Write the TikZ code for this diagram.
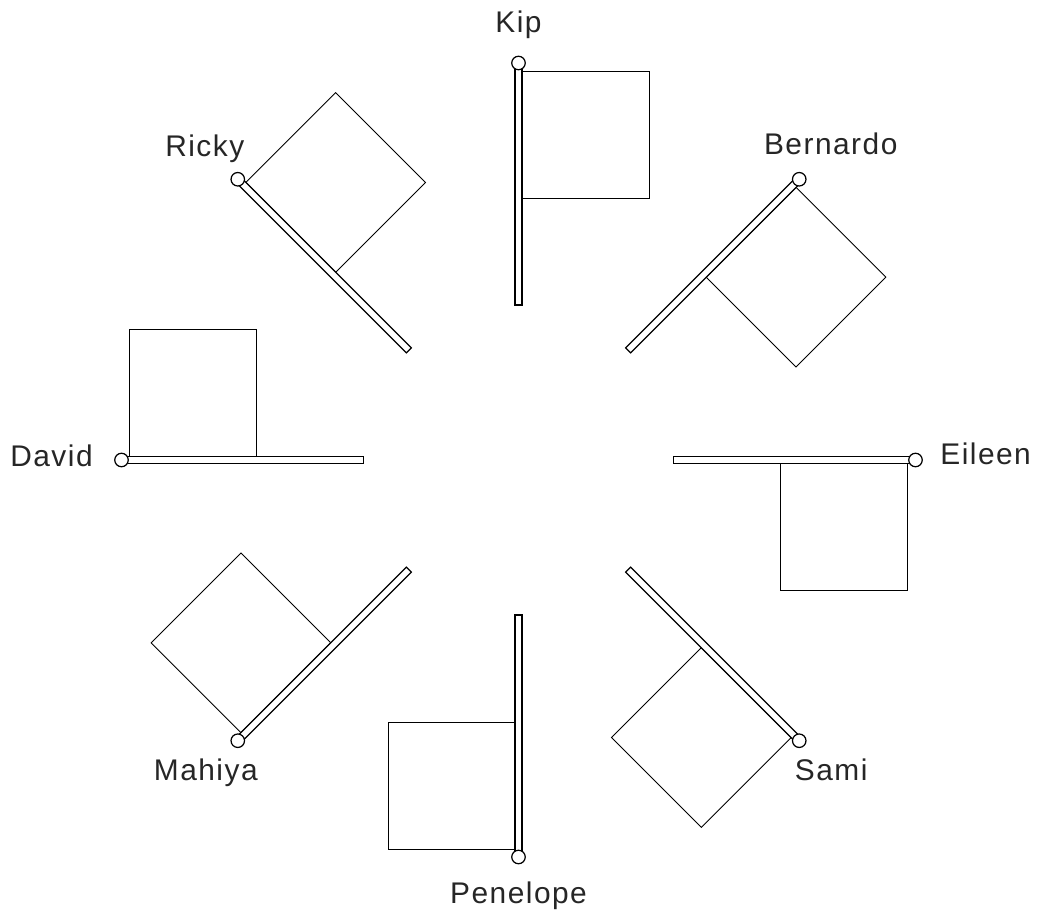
\documentclass[tikz,border=0pt]{standalone}
\usepackage{fontspec}
\setmainfont{Liberation Sans}[LetterSpace=5.0]
\usetikzlibrary{positioning}

% one flag: pole pointing at angle #1, top ring named #2
\newcommand{\drawflag}[2]{%
	\begin{scope}[rotate=#1]
		\draw[flagsheet] (5.24,-0.07) rectangle (7.78,-2.61);
		\draw[polebar] (3.10,-0.07) rectangle (7.94,0.07);
		\node[poletop] (#2) at (7.94,0) {};
	\end{scope}}

\begin{document}
\begin{tikzpicture}[
	% Styles for poles, sheets and names
	flagsheet/.style={draw=black, line width=0.5pt, fill=white},
	polebar/.style={draw=black, line width=0.7pt, fill=white},
	poletop/.style={circle, draw=black, line width=0.7pt, fill=white, minimum size=0.27cm, inner sep=0pt},
	nametext/.style={font=\fontsize{17}{20}\selectfont, text=black!85, inner sep=0pt}
	]
	\useasboundingbox (-10.37,-9.14) rectangle (10.37,9.2);
	
	% ==========================================
	% 1. FLAGS (clockwise from the top)
	% ==========================================
	\drawflag{90}{kip}
	\drawflag{45}{bernardo}
	\drawflag{0}{eileen}
	\drawflag{-45}{sami}
	\drawflag{-90}{penelope}
	\drawflag{-135}{mahiya}
	\drawflag{180}{david}
	\drawflag{135}{ricky}
	
	% ==========================================
	% 2. NAMES
	% ==========================================
	\node[nametext, anchor=base] (kipname) at ([shift={(0,0.60)}]kip.center) {Kip};
	\node[nametext, anchor=base] (bernardoname) at ([shift={(0.63,0.50)}]bernardo.center) {Bernardo};
	\node[nametext, anchor=base west] (eileenname) at ([shift={(0.49,-0.10)}]eileen.center) {Eileen};
	\node[nametext, anchor=base] (saminame) at ([shift={(0.64,-0.80)}]sami.center) {Sami};
	\node[nametext, anchor=base] (penelopename) at ([shift={(0,-0.92)}]penelope.center) {Penelope};
	\node[nametext, anchor=base] (mahiyaname) at ([shift={(-0.64,-0.80)}]mahiya.center) {Mahiya};
	\node[nametext, anchor=base east] (davidname) at ([shift={(-0.57,-0.14)}]david.center) {David};
	\node[nametext, anchor=base] (rickyname) at ([shift={(-0.66,0.46)}]ricky.center) {Ricky};
	
\end{tikzpicture}
\end{document}
